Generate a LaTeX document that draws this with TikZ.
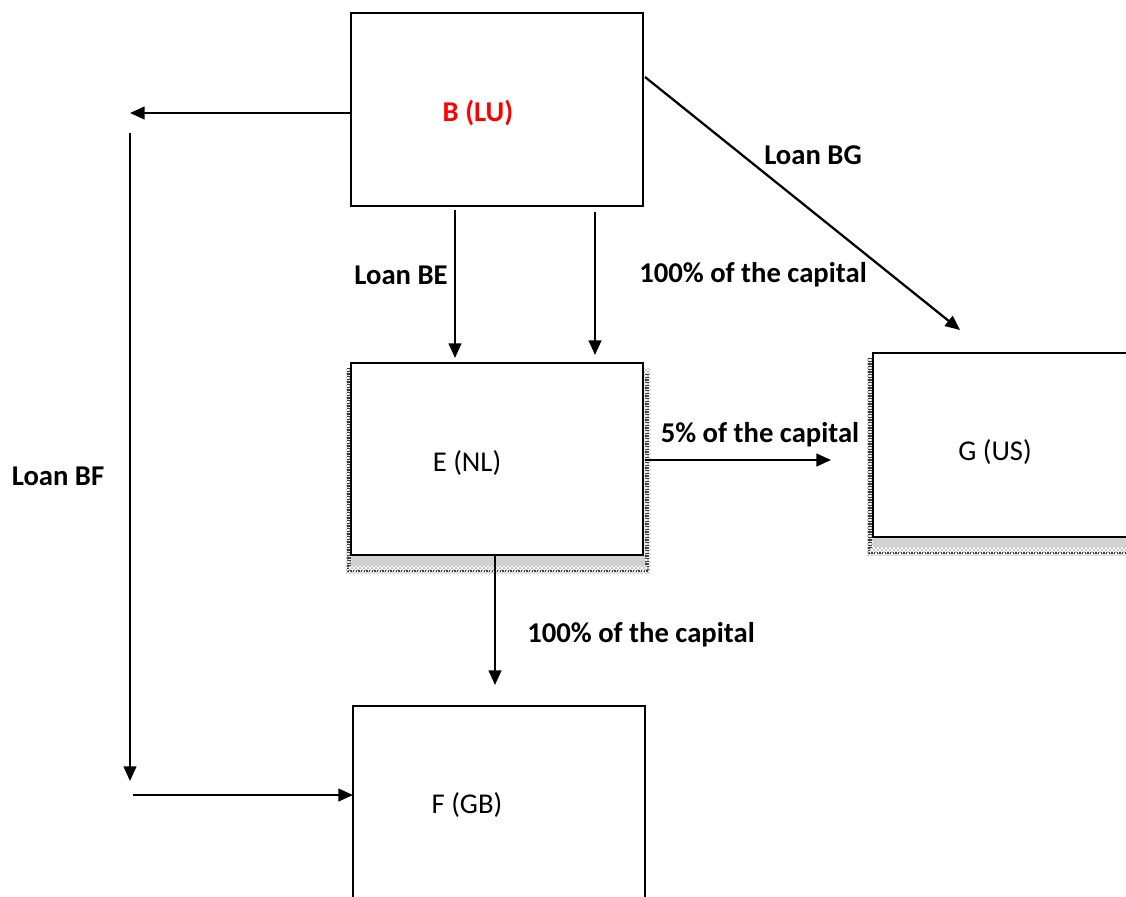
\documentclass[tikz,border=0pt]{standalone}
\usepackage{fontspec}
\setmainfont{Carlito}
\usetikzlibrary{arrows.meta,patterns}
\begin{document}
\begin{tikzpicture}[x=0.75pt,y=-0.75pt,
  every node/.style={font=\fontsize{21.5}{25}\selectfont},
  box/.style={draw=black,line width=2pt,fill=white},
  lbl/.style={font=\fontsize{21.5}{25}\selectfont\bfseries},
  conn/.style={line width=1.7pt,-{Triangle[length=11pt,width=9.5pt]}},
  shade/.style={pattern=crosshatch dots,pattern color=black},
  band/.style={fill=black!18},
  rim/.style={black!75,dash pattern=on 1pt off 1pt,line width=1.2pt}]
\useasboundingbox (0,0) rectangle (1126,896);
% shadows
\fill[shade] (346,368) rectangle (650,573);
\draw[rim] (348,368) -- (348,571) -- (648,571) -- (648,374);
\draw[rim] (350,368) -- (350,566);
\draw[rim] (646,374) -- (646,566);
\fill[band] (351,555) rectangle (645,566);
\fill[shade] (867,358) rectangle (1130,555);
\draw[rim] (869,358) -- (869,553) -- (1130,553);
\draw[rim] (871,358) -- (871,548);
\fill[band] (873,537) rectangle (1130,547);
% boxes
\draw[box] (351,13) rectangle (643,206);
\node[red,lbl] (B) at (478,113) {B (LU)};
\coordinate (Bl) at (351,113);
\draw[box] (351,363) rectangle (643,555);
\node (E) at (467,463) {E (NL)};
\draw[box] (873,353) rectangle (1135,537);
\node (G) at (995,452) {G (US)};
\draw[box] (353,706) rectangle (645,905);
\node (F) at (467,805) {F (GB)};
% connectors
\coordinate (L1) at (130,113);
\draw[conn] (Bl) -- (L1);
\coordinate (V1) at (130,133);
\coordinate (V2) at (130,781);
\draw[conn] (V1) -- (V2);
\coordinate (H1) at (133,795);
\coordinate (Fl) at (353,795);
\draw[conn] (H1) -- (Fl);
\coordinate (BE1) at (455,210);
\coordinate (BE2) at (455,358);
\draw[conn] (BE1) -- (BE2);
\coordinate (BC1) at (595,212);
\coordinate (BC2) at (595,355);
\draw[conn] (BC1) -- (BC2);
\coordinate (BG1) at (645,77);
\coordinate (BG2) at (960,330);
\draw[conn] (BG1) -- (BG2);
\coordinate (EG1) at (645,460);
\coordinate (EG2) at (831,460);
\draw[conn] (EG1) -- (EG2);
\coordinate (EF1) at (495,555);
\coordinate (EF2) at (495,685);
\draw[conn] (EF1) -- (EF2);
% labels
\node[lbl] (tBF) at (58,476) {Loan BF};
\node[lbl] (tBE) at (401,275) {Loan BE};
\node[lbl] (tBC) at (753,275) {100\% of the capital};
\node[lbl] (tBG) at (813,155) {Loan BG};
\node[lbl] (tEG) at (760,435) {5\% of the capital};
\node[lbl] (tEF) at (641,635) {100\% of the capital};
\end{tikzpicture}
\end{document}
